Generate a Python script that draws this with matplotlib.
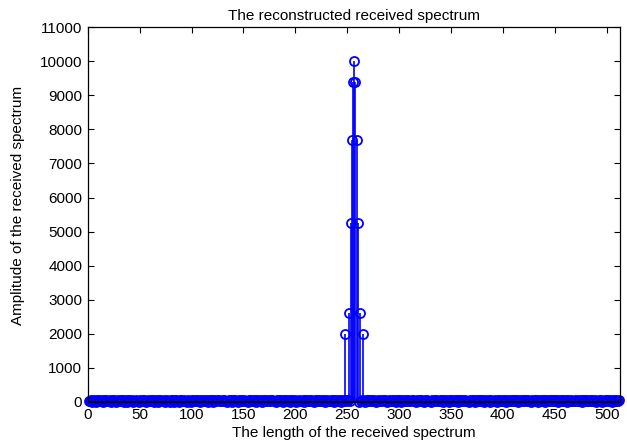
import numpy as np
import matplotlib
matplotlib.use("Agg")
import matplotlib.pyplot as plt

plt.rcParams['font.family'] = ['Liberation Sans', 'DejaVu Sans']

# Low-level floor of the reconstructed spectrum (one value per bin)
floor_values = [
    42, 18, 55, 7, 33, 61, 24, 12, 48, 29, 66, 15, 38, 52, 9, 27, 44, 71, 20, 36, 58, 11, 31, 49, 64, 22, 5, 40, 57, 17, 34, 46,
    63, 26, 14, 51, 39, 8, 45, 68, 21, 30, 54, 13, 37, 60, 25, 43, 10, 56, 32, 19, 47, 65, 28, 6, 41, 53, 16, 35, 62, 23, 50, 4,
    38, 59, 27, 12, 46, 70, 19, 33, 55, 8, 42, 61, 24, 36, 14, 52, 67, 29, 10, 44, 58, 21, 39, 6, 48, 63, 17, 31, 54, 26, 41, 13,
    57, 35, 9, 49, 66, 22, 30, 45, 15, 60, 37, 11, 53, 28, 43, 69, 18, 34, 51, 7, 40, 62, 25, 47, 14, 56, 32, 20, 44, 65, 23, 38,
    16, 50, 64, 27, 41, 5, 36, 58, 21, 47, 12, 55, 33, 68, 24, 39, 9, 52, 30, 61, 18, 43, 57, 26, 35, 11, 49, 66, 20, 42, 54, 31,
    45, 13, 59, 37, 22, 63, 28, 8, 50, 34, 67, 19, 41, 56, 15, 29, 46, 71, 23, 38, 10, 53, 32, 60, 17, 44, 27, 6, 48, 62, 36, 21,
    52, 30, 11, 47, 65, 25, 39, 57, 14, 43, 28, 61, 19, 35, 54, 8, 46, 69, 31, 16, 49, 37, 58, 22, 40, 12, 55, 33, 63, 26, 44, 18,
    36, 60, 24, 50, 9, 42, 57, 17, 33, 66, 29, 45, 13, 53, 38, 21, 62, 27, 48, 7, 41, 59, 34, 15, 51, 30, 68, 23, 43, 56, 12, 39,
    47, 20, 58, 35, 14, 64, 31, 49, 26, 40, 10, 55, 37, 61, 22, 45, 18, 52, 33, 67, 28, 8, 43, 59, 24, 38, 54, 16, 46, 63, 30, 11,
    41, 57, 25, 36, 69, 19, 48, 32, 13, 53, 44, 27, 62, 9, 39, 56, 21, 34, 50, 15, 60, 37, 23, 47, 66, 29, 42, 6, 55, 31, 18, 45,
    58, 26, 40, 12, 51, 35, 64, 20, 43, 30, 8, 57, 38, 24, 49, 67, 16, 33, 54, 28, 45, 11, 61, 36, 22, 52, 41, 14, 59, 27, 47, 34,
    19, 62, 32, 48, 7, 44, 56, 25, 38, 70, 17, 50, 29, 42, 13, 58, 35, 22, 46, 63, 10, 39, 53, 31, 65, 18, 45, 27, 57, 9, 40, 52,
    26, 37, 61, 14, 49, 33, 21, 55, 43, 8, 60, 30, 47, 18, 39, 66, 24, 52, 12, 41, 57, 28, 35, 64, 16, 48, 20, 44, 59, 32, 11, 50,
    38, 63, 23, 46, 15, 54, 34, 68, 27, 42, 9, 56, 31, 19, 48, 61, 36, 13, 51, 25, 40, 65, 22, 45, 7, 58, 33, 47, 17, 53, 29, 62,
    21, 44, 56, 30, 12, 59, 39, 24, 50, 67, 18, 35, 47, 10, 55, 28, 41, 63, 26, 37, 15, 52, 43, 60, 19, 32, 49, 8, 57, 34, 46, 23,
    54, 29, 40, 65, 16, 48, 36, 22, 58, 11, 43, 31, 62, 25, 50, 14, 38, 57, 27, 45, 69, 20, 33, 53, 9, 42, 60, 24, 47, 35, 18, 51,
]

# Main lobe of the spectrum around the centre bin
peak_bins = [248, 252, 254, 255, 256, 257, 258, 259, 260, 262, 265]
peak_values = [2000, 2600, 5250, 7700, 9400, 10000, 9400, 7700, 5250, 2600, 2000]

x_ticks = list(range(0, 501, 50))
y_ticks = list(range(0, 11001, 1000))

bins = np.arange(1, len(floor_values) + 1)
amp = np.array(floor_values, dtype=float)
for b, v in zip(peak_bins, peak_values):
    amp[b - 1] = v

fig = plt.figure(figsize=(6.27, 4.43), dpi=100)
ax = fig.add_axes([0.140, 0.0926, 0.849, 0.846])

markerline, stemlines, baseline = ax.stem(bins, amp, basefmt='k-')
plt.setp(markerline, marker='o', markersize=6.5, markerfacecolor='none',
         markeredgecolor='#0000ff', markeredgewidth=1.3, clip_on=False)
plt.setp(stemlines, color='#0000ff', linewidth=1.2)
plt.setp(baseline, color='black', linewidth=1.2)
baseline.set_zorder(3)

ax.set_xlim(0, 513)
ax.set_ylim(0, 11000)
ax.set_xticks(x_ticks)
ax.set_yticks(y_ticks)
ax.tick_params(direction='in', top=True, right=True, length=4, width=0.8,
               labelsize=11, pad=4)
for s in ax.spines.values():
    s.set_linewidth(0.9)

ax.set_title('The reconstructed received spectrum', fontsize=11, pad=5)
ax.set_xlabel('The length of the received spectrum', fontsize=11, labelpad=3)
ax.set_ylabel('Amplitude of the received spectrum', fontsize=11)
ax.yaxis.set_label_coords(-0.117, 0.525)

fig.savefig('out.png', dpi=100)
